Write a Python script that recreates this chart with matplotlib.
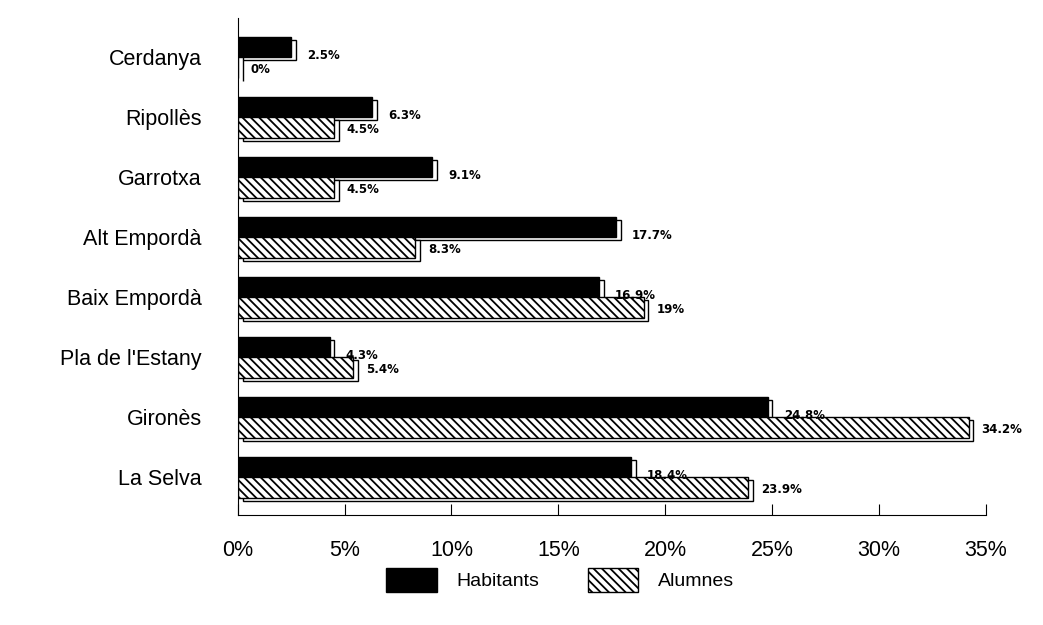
import matplotlib.pyplot as plt
from matplotlib.patches import Patch

comarques = ['Cerdanya', 'Ripollès', 'Garrotxa', 'Alt Empordà',
             'Baix Empordà', "Pla de l'Estany", 'Gironès', 'La Selva']
habitants = [2.5, 6.3, 9.1, 17.7, 16.9, 4.3, 24.8, 18.4]
alumnes = [0, 4.5, 4.5, 8.3, 19, 5.4, 34.2, 23.9]
hab_labels = ['2.5%', '6.3%', '9.1%', '17.7%', '16.9%', '4.3%', '24.8%', '18.4%']
alu_labels = ['0%', '4.5%', '4.5%', '8.3%', '19%', '5.4%', '34.2%', '23.9%']
xticks = [0, 5, 10, 15, 20, 25, 30, 35]

plt.rcParams['font.family'] = ['Liberation Sans', 'DejaVu Sans']
plt.rcParams['hatch.linewidth'] = 1.3

fig = plt.figure(figsize=(10.43, 6.25), dpi=100)
ax = fig.add_axes([0.228, 0.176, 0.717, 0.795])

h = 0.34
pos = list(range(len(comarques)))
# fake 3d depth: white boxes a bit to the right and below each bar
dx, dy = 0.22, 0.05
ax.barh([p - h / 2 + dy for p in pos], habitants, height=h, left=dx,
        color='white', edgecolor='black', lw=1, zorder=1)
ax.barh([p + h / 2 + dy for p in pos], alumnes, height=h, left=dx,
        color='white', edgecolor='black', lw=1, zorder=1)
ax.barh([p - h / 2 for p in pos], habitants, height=h,
        color='black', edgecolor='black', lw=1, zorder=2)
ax.barh([p + h / 2 for p in pos], alumnes, height=h,
        color='white', edgecolor='black', hatch='\\\\\\\\', lw=1, zorder=2)

for p, v, t in zip(pos, habitants, hab_labels):
    ax.text(v + 0.75, p - 0.03, t, fontsize=8.5, fontweight='bold',
            family='DejaVu Sans', va='center', ha='left')
for p, v, t in zip(pos, alumnes, alu_labels):
    ax.text(v + 0.6, p + 0.21, t, fontsize=8.5, fontweight='bold',
            family='DejaVu Sans', va='center', ha='left')

ax.set_xlim(0, 35)
ax.set_ylim(7.63, -0.65)
ax.set_yticks(pos)
ax.set_yticklabels(comarques, fontsize=15.5)
ax.set_xticks(xticks)
ax.set_xticklabels([f'{t}%' for t in xticks], fontsize=15.5)
ax.tick_params(axis='y', length=0, pad=26)
ax.tick_params(axis='x', direction='in', length=8, pad=18)
ax.spines['top'].set_visible(False)
ax.spines['right'].set_visible(False)

handles = [Patch(facecolor='black', edgecolor='black', label='Habitants'),
           Patch(facecolor='white', edgecolor='black', hatch='\\\\\\\\',
                 label='Alumnes')]
fig.legend(handles=handles, loc='center', bbox_to_anchor=(0.537, 0.072),
           ncol=2, frameon=False, fontsize=14, handlelength=2.6,
           handleheight=1.5, columnspacing=2.5, handletextpad=1.0)

plt.savefig('out.png')
plt.close()
